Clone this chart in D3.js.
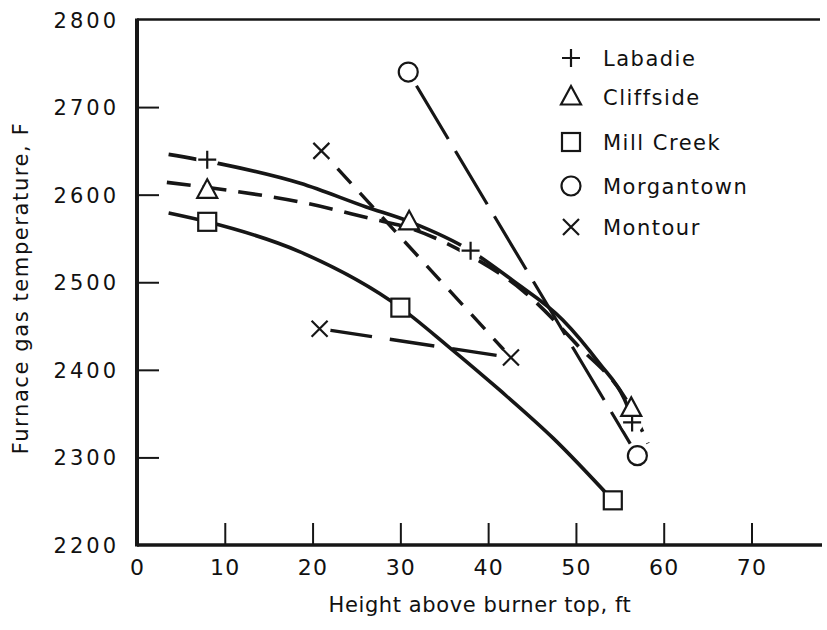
<!DOCTYPE html>
<html><head><meta charset="utf-8">
<script src="https://cdn.jsdelivr.net/npm/d3@7"></script>
<style>body{margin:0;background:#fff}text{font-family:"DejaVu Sans",sans-serif;fill:#111}</style>
</head><body><svg id="c" width="827" height="630"></svg>
<script>
// ---- data ----
const xTicks = [0, 10, 20, 30, 40, 50, 60, 70];
const yTicks = [2200, 2300, 2400, 2500, 2600, 2700, 2800];
const seriesNames = ["Labadie", "Cliffside", "Mill Creek", "Morgantown", "Montour"];
const seriesSymbols = ["plus", "triangle", "square", "circle", "cross"];

const labadieX = [8, 38, 56.4];
const labadieY = [2640, 2536, 2340];
const cliffsideX = [8, 31, 56.3];
const cliffsideY = [2605, 2569, 2356];
const millCreekX = [8, 30, 54.2];
const millCreekY = [2569, 2471, 2251];
const morgantownX = [30.9, 57];
const morgantownY = [2740, 2302];
const montourX = [21, 20.8, 42.6];
const montourY = [2650, 2447, 2414];

// hand-fitted curves
const labadieFitX = [3.6, 9.1, 18.6, 26.1, 31.1, 38, 42.8, 48.5, 52.7, 55.5, 56.4];
const labadieFitY = [2646, 2636, 2613, 2586, 2569, 2536, 2502, 2457, 2407, 2367, 2345];
const cliffsideFitX = [3.4, 10.4, 18.9, 26.5, 31, 38, 44, 50, 56.3, 58.2];
const cliffsideFitY = [2614, 2605, 2591, 2573, 2562, 2530, 2490, 2430, 2356, 2316];
const millCreekFitX = [3.6, 8, 18.5, 30, 35.3, 41.3, 47.4, 54.2];
const millCreekFitY = [2579, 2569, 2535, 2471, 2428, 2377, 2322, 2251];

// ---- drawing ----
const svg = d3.select("#c");
const X0 = 137, X70 = 751.5, YB = 545, YT = 19.5, XR = 822;
const x = d3.scaleLinear().domain([0, 70]).range([X0, X70]);
const y = d3.scaleLinear().domain([2200, 2800]).range([YB, YT]);
const ink = "#161616";

const zip = (a, b) => a.map((v, i) => [v, b[i]]);
const line = d3.line().x(d => x(d[0])).y(d => y(d[1])).curve(d3.curveMonotoneX);
const straight = d3.line().x(d => x(d[0])).y(d => y(d[1]));

// axes
const gx = svg.append("g").attr("transform", `translate(0,${YB})`)
  .call(d3.axisBottom(x).tickValues(xTicks).tickSize(-22).tickPadding(14).tickFormat(d3.format("d")));
const gy = svg.append("g").attr("transform", `translate(${X0},0)`)
  .call(d3.axisLeft(y).tickValues(yTicks).tickSize(-22).tickPadding(18).tickFormat(d3.format("d")));
[gx, gy].forEach(g => {
  g.select(".domain").remove();
  g.selectAll(".tick line").attr("stroke", ink).attr("stroke-width", 2);
  g.selectAll(".tick text").attr("fill", ink).style("font-family", '"DejaVu Sans", sans-serif');
});
gx.selectAll(".tick text").attr("font-size", 22).attr("letter-spacing", 1.2);
gy.selectAll(".tick text").attr("font-size", 21).attr("letter-spacing", 3).attr("dy", "0.36em");
gx.selectAll(".tick").filter(d => d === 0).select("line").remove();
gy.selectAll(".tick").filter(d => d === 2200 || d === 2800).select("line").remove();

// frame lines
svg.append("line").attr("x1", X0).attr("x2", XR).attr("y1", YB).attr("y2", YB).attr("stroke", ink).attr("stroke-width", 3.5);
svg.append("line").attr("x1", X0).attr("x2", X0).attr("y1", YT - 1).attr("y2", YB + 1.5).attr("stroke", ink).attr("stroke-width", 4);
svg.append("line").attr("x1", X0).attr("x2", 820).attr("y1", YT).attr("y2", YT).attr("stroke", ink).attr("stroke-width", 2.5);

// axis titles
svg.append("text").attr("x", 480).attr("y", 612).attr("text-anchor", "middle")
  .attr("font-size", 21).attr("letter-spacing", 0.6).text("Height above burner top, ft");
svg.append("text").attr("transform", "translate(28,288) rotate(-90)").attr("text-anchor", "middle")
  .attr("font-size", 21).attr("letter-spacing", 1.6).text("Furnace gas temperature, F");

// lines
const plot = svg.append("g");
plot.append("path").attr("d", line(zip(labadieFitX, labadieFitY)))
  .attr("fill", "none").attr("stroke", ink).attr("stroke-width", 3.6);
plot.append("path").attr("d", line(zip(cliffsideFitX, cliffsideFitY)))
  .attr("fill", "none").attr("stroke", ink).attr("stroke-width", 3.6).attr("stroke-dasharray", "24,12");
plot.append("path").attr("d", line(zip(millCreekFitX, millCreekFitY)))
  .attr("fill", "none").attr("stroke", ink).attr("stroke-width", 3.6);
plot.append("path").attr("d", straight(zip(morgantownX, morgantownY)))
  .attr("fill", "none").attr("stroke", ink).attr("stroke-width", 3.2).attr("stroke-dasharray", "62,14")
  .attr("stroke-dashoffset", -16);
const montourPts = zip(montourX, montourY);
plot.append("path").attr("d", straight([montourPts[0], montourPts[2]]))
  .attr("fill", "none").attr("stroke", ink).attr("stroke-width", 3.4).attr("stroke-dasharray", "20,13")
  .attr("stroke-dashoffset", -24);
plot.append("path").attr("d", straight([montourPts[1], montourPts[2]]))
  .attr("fill", "none").attr("stroke", ink).attr("stroke-width", 3.4).attr("stroke-dasharray", "45,18")
  .attr("stroke-dashoffset", -8);

// markers
function drawMarker(g, type, cx, cy) {
  const s = g.append("g").attr("transform", `translate(${cx},${cy})`);
  const st = { stroke: ink, "stroke-width": 2.2, fill: "#fff" };
  const ap = (el) => { Object.entries(st).forEach(([k, v]) => el.attr(k, v)); return el; };
  if (type === "plus") {
    ap(s.append("path").attr("d", "M-9,0H9M0,-9V9")).attr("fill", "none");
  } else if (type === "cross") {
    ap(s.append("path").attr("d", "M-8,-8L8,8M-8,8L8,-8")).attr("fill", "none");
  } else if (type === "triangle") {
    ap(s.append("path").attr("d", "M0,-11L10,7.5H-10Z"));
  } else if (type === "square") {
    ap(s.append("rect").attr("x", -9).attr("y", -9).attr("width", 18).attr("height", 18));
  } else if (type === "circle") {
    ap(s.append("circle").attr("r", 9.5));
  }
}
function drawMask(g, type, cx, cy) {
  const r = { plus: 11, cross: 11, circle: 14, triangle: 0, square: 0 }[type];
  if (r) g.append("circle").attr("cx", cx).attr("cy", cy).attr("r", r).attr("fill", "#fff");
}
const seriesPoints = [
  zip(labadieX, labadieY), zip(cliffsideX, cliffsideY), zip(millCreekX, millCreekY),
  zip(morgantownX, morgantownY), zip(montourX, montourY)
];
const masks = svg.append("g"), marks = svg.append("g");
seriesPoints.forEach((pts, i) => pts.forEach(p => drawMask(masks, seriesSymbols[i], x(p[0]), y(p[1]))));
seriesPoints.forEach((pts, i) => pts.forEach(p => drawMarker(marks, seriesSymbols[i], x(p[0]), y(p[1]))));

// legend
const legendBase = [65.5, 104.5, 149.5, 193.5, 234.5];
const leg = svg.append("g");
seriesNames.forEach((n, i) => {
  drawMarker(leg, seriesSymbols[i], 571, legendBase[i] - 7.5);
  leg.append("text").attr("x", 603).attr("y", legendBase[i]).attr("font-size", 21)
    .attr("letter-spacing", 1.5).text(n);
});
</script></body></html>
